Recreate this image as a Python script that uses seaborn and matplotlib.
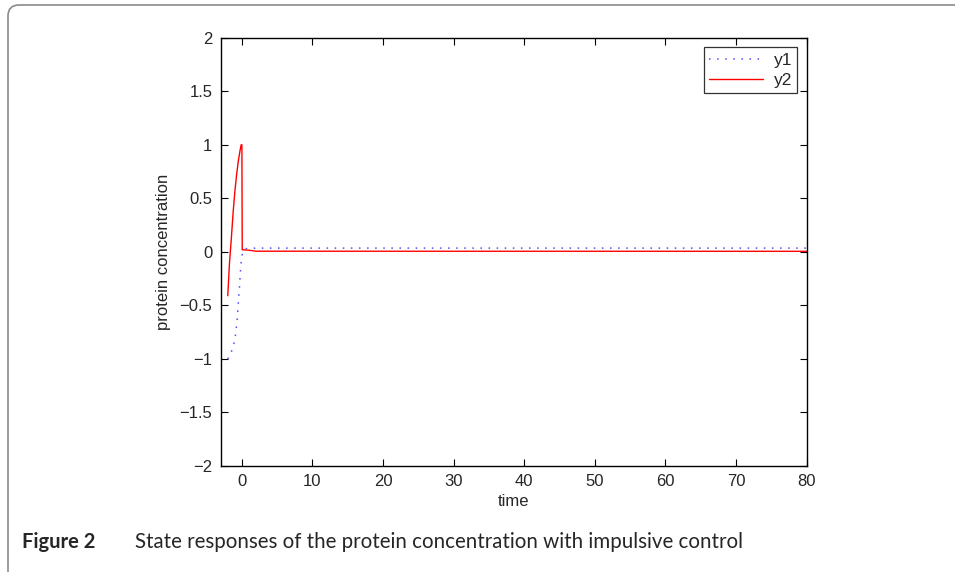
import matplotlib
matplotlib.use('Agg')
import matplotlib.pyplot as plt
import seaborn as sns
import pandas as pd
from matplotlib.patches import FancyBboxPatch

# y1 (dotted blue)
t_y1 = [-2.0, -1.7, -1.25, -1.0, -0.85, -0.65, -0.5, -0.35, -0.15, 0.1, 0.5, 2.0, 80.0]
y1 = [-1.0, -0.97, -0.89, -0.82, -0.75, -0.62, -0.47, -0.34, -0.12, 0.0, 0.03, 0.035, 0.035]

# y2 (solid red)
t_y2 = [-2.0, -1.75, -1.5, -1.25, -1.0, -0.75, -0.5, -0.25, -0.1, 0.0, 0.05, 1.0, 2.0, 80.0]
y2 = [-0.41, -0.1, 0.12, 0.36, 0.56, 0.72, 0.85, 0.95, 1.0, 1.0, 0.02, 0.015, 0.006, 0.005]

x_ticks = [0, 10, 20, 30, 40, 50, 60, 70, 80]
y_ticks = [-2, -1.5, -1, -0.5, 0, 0.5, 1, 1.5, 2]
y_tick_labels = ['\u22122', '\u22121.5', '\u22121', '\u22120.5', '0', '0.5', '1', '1.5', '2']
x_tick_labels = [str(v) for v in x_ticks]

df1 = pd.DataFrame({'time': t_y1, 'value': y1})
df2 = pd.DataFrame({'time': t_y2, 'value': y2})

sns.set_theme(style='white')
plt.rcParams['font.family'] = ['Liberation Sans', 'DejaVu Sans']
plt.rcParams['xtick.direction'] = 'in'
plt.rcParams['ytick.direction'] = 'in'

W, H = 955, 572
fig = plt.figure(figsize=(W / 100, H / 100), dpi=100)
ax = fig.add_axes([220.7 / W, 1 - 466 / H, (806.7 - 220.7) / W, (466 - 37.7) / H])

sns.lineplot(data=df1, x='time', y='value', ax=ax, color='#4d4dff', linewidth=1.1,
             linestyle=(0, (1, 4.3)), estimator=None, sort=False, label='y1')
sns.lineplot(data=df2, x='time', y='value', ax=ax, color='#ff0000', linewidth=1.0,
             estimator=None, sort=False, label='y2')

ax.set_xlim(-3, 80)
ax.set_ylim(-2, 2)
ax.set_xticks(x_ticks)
ax.set_xticklabels(x_tick_labels)
ax.set_yticks(y_ticks)
ax.set_yticklabels(y_tick_labels)
ax.tick_params(axis='both', which='both', labelsize=12, length=5, width=0.8,
               top=True, right=True, bottom=True, left=True, color='black', pad=6)
for s in ax.spines.values():
    s.set_color('black')
    s.set_linewidth(1.0)
ax.set_xlabel('time', fontsize=12, labelpad=3)
ax.set_ylabel('protein concentration', fontsize=12, labelpad=6)

leg = ax.legend(loc='upper right', fontsize=12.5, frameon=True, fancybox=False,
                borderaxespad=0.55, handlelength=3.1, handletextpad=0.6,
                borderpad=0.3, labelspacing=0.3)
leg.get_frame().set_edgecolor('black')
leg.get_frame().set_linewidth(0.9)

# Rounded border around the figure, in pixel coordinates (runs off right and bottom)
border = FancyBboxPatch((8, -10), 1100, H - 5 + 10,
                        boxstyle='round,pad=0,rounding_size=11',
                        transform=None, fill=False,
                        edgecolor='#8a8a8a', linewidth=1.2, clip_on=False)
fig.patches.append(border)

fig.text(22 / W, 1 - 542 / H, 'Figure 2', fontsize=14.5, fontweight='bold',
         family=['Lato', 'DejaVu Sans'], va='center', ha='left')
fig.text(135 / W, 1 - 542 / H, 'State responses of the protein concentration with impulsive control',
         fontsize=14.8, family=['Lato', 'DejaVu Sans'], va='center', ha='left')

fig.savefig('out.png', dpi=100)
plt.close(fig)
